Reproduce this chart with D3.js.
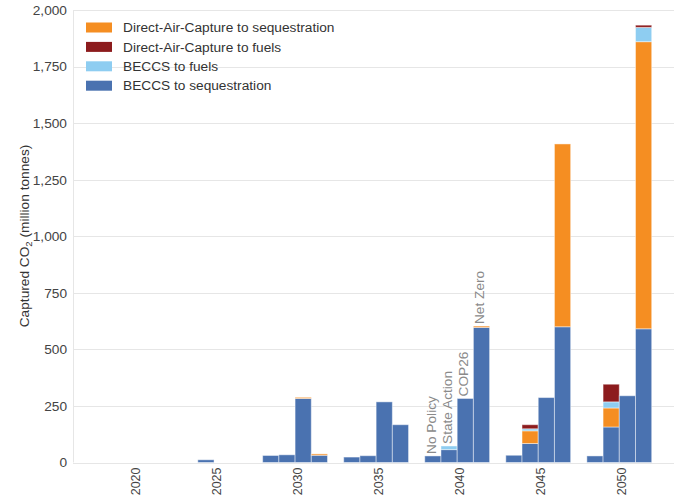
<!DOCTYPE html>
<html>
<head>
<meta charset="utf-8">
<script src="https://cdn.jsdelivr.net/npm/d3@7/dist/d3.min.js"></script>
<style>
  html, body { margin: 0; padding: 0; background: #fff; }
  svg { display: block; font-family: "Liberation Sans", Arial, sans-serif; }
</style>
</head>
<body>
<svg id="chart" width="674" height="497"></svg>
<script>
// Captured CO2 by pathway, per scenario, every five years (million tonnes)
const years = [2020, 2025, 2030, 2035, 2040, 2045, 2050];
const scenarios = ["No Policy", "State Action", "COP26", "Net Zero"];
const yTicks = [0, 250, 500, 750, 1000, 1250, 1500, 1750, 2000];

// values per year (rows) and scenario (columns)
const beccsSequestration = [
  [0, 0, 0, 0],
  [0, 12, 0, 0],
  [31, 34, 283, 32],
  [24, 30, 268, 167],
  [29, 57, 283, 597],
  [32, 84, 287, 600],
  [29, 157, 295, 591]
];
const dacSequestration = [
  [0, 0, 0, 0],
  [0, 0, 0, 0],
  [0, 0, 5, 6],
  [0, 0, 0, 0],
  [0, 0, 0, 6],
  [0, 56, 0, 808],
  [0, 84, 0, 1269]
];
const beccsFuels = [
  [0, 0, 0, 0],
  [0, 0, 0, 0],
  [0, 0, 0, 0],
  [0, 0, 0, 0],
  [0, 16, 0, 0],
  [0, 9, 0, 0],
  [0, 27, 0, 63]
];
const dacFuels = [
  [0, 0, 0, 0],
  [0, 0, 0, 0],
  [0, 0, 0, 0],
  [0, 0, 0, 0],
  [0, 0, 0, 0],
  [0, 18, 0, 0],
  [0, 78, 0, 10]
];

// stacking order, bottom to top
const series = [
  { name: "BECCS to sequestration", values: beccsSequestration, color: "#4a72b0" },
  { name: "Direct-Air-Capture to sequestration", values: dacSequestration, color: "#f58e22" },
  { name: "BECCS to fuels", values: beccsFuels, color: "#8ecdf1" },
  { name: "Direct-Air-Capture to fuels", values: dacFuels, color: "#8c1b1d" }
];
const legendOrder = [1, 3, 2, 0];
const labelYear = 2040;
const fontSize = 13.7;

const svg = d3.select("#chart");
const x = d3.scaleLinear().domain([2016.3, 2053.4]).range([73, 674.4]);
const y = d3.scaleLinear().domain([0, 2000]).range([462.5, 10]);

// gridlines
svg.append("g")
  .selectAll("line")
  .data(yTicks)
  .join("line")
  .attr("x1", 73).attr("x2", 674)
  .attr("y1", d => Math.round(y(d)) + 0.5).attr("y2", d => Math.round(y(d)) + 0.5)
  .attr("stroke", "#e6e6e6").attr("stroke-width", 1);

svg.append("line")
  .attr("x1", 73.5).attr("x2", 73.5).attr("y1", y(2000)).attr("y2", y(0))
  .attr("stroke", "#e6e6e6");

// y axis labels
const yAxis = svg.append("g").attr("transform", "translate(73,0)")
  .call(d3.axisLeft(y).tickValues(yTicks).tickFormat(d3.format(",")).tickSize(0).tickPadding(6));
yAxis.select(".domain").remove();
yAxis.selectAll("text").attr("font-size", fontSize).attr("fill", "#444")
  .attr("font-family", "Liberation Sans, Arial, sans-serif");

// x axis labels (rotated)
const xAxis = svg.append("g").attr("transform", `translate(0,${y(0)})`)
  .call(d3.axisBottom(x).tickValues(years).tickFormat(d3.format("d")).tickSize(0));
xAxis.select(".domain").remove();
xAxis.selectAll("text")
  .attr("font-size", 12.5).attr("fill", "#444")
  .attr("font-family", "Liberation Sans, Arial, sans-serif")
  .attr("text-anchor", "end")
  .attr("transform", "rotate(-90)")
  .attr("x", -5).attr("y", 0).attr("dy", "0.5em");

// stacked bars
const cells = [];
years.forEach((yr, yi) => {
  scenarios.forEach((sc, si) => {
    let base = 0;
    series.forEach(s => {
      const v = s.values[yi][si];
      if (v > 0) {
        cells.push({ yr, si, y0: base, y1: base + v, color: s.color });
      }
      base += v;
    });
  });
});

svg.append("g")
  .selectAll("rect")
  .data(cells)
  .join("rect")
  .attr("x", d => x(d.yr - 2 + d.si))
  .attr("width", d => x(d.yr - 1 + d.si) - x(d.yr - 2 + d.si))
  .attr("y", d => y(d.y1))
  .attr("height", d => y(d.y0) - y(d.y1))
  .attr("fill", d => d.color)
  .attr("stroke", "#ffffff").attr("stroke-opacity", 0.45).attr("stroke-width", 1);

// scenario names above the 2040 group
const li = years.indexOf(labelYear);
svg.append("g")
  .selectAll("text")
  .data(scenarios)
  .join("text")
  .attr("transform", (d, si) => {
    const total = d3.sum(series, s => s.values[li][si]);
    const cx = x(labelYear - 1.5 + si);
    return `translate(${cx},${y(total) - 2}) rotate(-90)`;
  })
  .attr("dy", "0.2em")
  .attr("font-size", fontSize).attr("fill", "#8a8a8a")
  .text(d => d);

// y axis title
const title = svg.append("text")
  .attr("transform", "translate(29,236) rotate(-90)")
  .attr("text-anchor", "middle")
  .attr("font-size", fontSize).attr("fill", "#333");
title.append("tspan").text("Captured CO");
title.append("tspan").attr("font-size", 9.5).attr("dy", 3).text("2");
title.append("tspan").attr("dy", -3).text(" (million tonnes)");

// legend
const legend = svg.append("g");
legendOrder.forEach((k, i) => {
  const cy = 27.5 + i * 19.4;
  legend.append("rect")
    .attr("x", 86).attr("y", cy - 5).attr("width", 26).attr("height", 10)
    .attr("fill", series[k].color);
  legend.append("text")
    .attr("x", 123).attr("y", cy).attr("dy", "0.35em")
    .attr("font-size", fontSize).attr("fill", "#333")
    .text(series[k].name);
});
</script>
</body>
</html>
